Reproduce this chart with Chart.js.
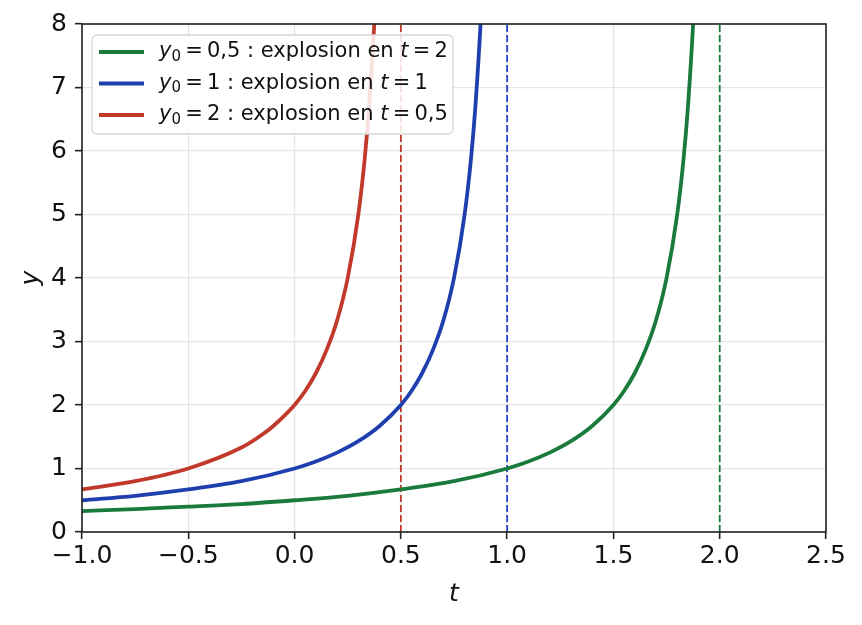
<!DOCTYPE html>
<html lang="fr">
<head>
<meta charset="UTF-8">
<title>Explosion en temps fini</title>
<script src="https://cdn.jsdelivr.net/npm/chart.js@4.4.0/dist/chart.umd.min.js"></script>
<style>
    html, body { margin: 0; padding: 0; background: #fff; }
    #wrap { width: 862px; height: 625px; }
</style>
</head>
<body>
<div id="wrap"><canvas id="chart" width="862" height="625"></canvas></div>
<script>
// values
const tGreen = [-1, -0.75, -0.5, -0.25, 0, 0.25, 0.5, 0.75, 1, 1.1, 1.2, 1.3, 1.4, 1.5, 1.55, 1.6, 1.65, 1.7, 1.75, 1.8, 1.83, 1.85, 1.88, 1.9];
const yGreen = [0.33, 0.36, 0.40, 0.44, 0.50, 0.57, 0.67, 0.80, 1.00, 1.11, 1.25, 1.43, 1.67, 2.00, 2.22, 2.50, 2.86, 3.33, 4.00, 5.00, 5.88, 6.67, 8.33, 10.0];

const tBlue = [-1, -0.75, -0.5, -0.25, 0, 0.1, 0.2, 0.3, 0.4, 0.5, 0.55, 0.6, 0.65, 0.7, 0.75, 0.8, 0.83, 0.85, 0.88, 0.9];
const yBlue = [0.50, 0.57, 0.67, 0.80, 1.00, 1.11, 1.25, 1.43, 1.67, 2.00, 2.22, 2.50, 2.86, 3.33, 4.00, 5.00, 5.88, 6.67, 8.33, 10.0];

const tRed = [-1, -0.75, -0.5, -0.25, -0.15, -0.1, 0, 0.05, 0.1, 0.15, 0.2, 0.25, 0.3, 0.33, 0.35, 0.38, 0.4];
const yRed = [0.67, 0.80, 1.00, 1.33, 1.54, 1.67, 2.00, 2.22, 2.50, 2.86, 3.33, 4.00, 5.00, 5.88, 6.67, 8.33, 10.0];

const blowupTimes = [2, 1, 0.5];
const legendParts = [
    [['y', 'i'], ['0', 's'], ['\u2009=\u20090,5 : explosion en ', 'n'], ['t', 'i'], ['\u2009=\u20092', 'n']],
    [['y', 'i'], ['0', 's'], ['\u2009=\u20091 : explosion en ', 'n'], ['t', 'i'], ['\u2009=\u20091', 'n']],
    [['y', 'i'], ['0', 's'], ['\u2009=\u20092 : explosion en ', 'n'], ['t', 'i'], ['\u2009=\u20090,5', 'n']]
];

const colors = ['#1a7a3c', '#1f3fae', '#c0392b'];
const dashColors = ['#1a7a3c', '#2741c8', '#c0392b'];
const FONT = 'DejaVu Sans';

const pairs = (ts, ys) => ts.map((t, i) => ({ x: t, y: ys[i] }));

const curves = [pairs(tGreen, yGreen), pairs(tBlue, yBlue), pairs(tRed, yRed)];

const datasets = [];
blowupTimes.forEach((t, i) => {
    datasets.push({
        data: [{ x: t, y: 0 }, { x: t, y: 8 }],
        borderColor: dashColors[i],
        borderWidth: 1.8,
        borderDash: [7, 3],
        pointRadius: 0,
        order: 2
    });
});
curves.forEach((d, i) => {
    datasets.push({
        data: d,
        borderColor: colors[i],
        borderWidth: 3.8,
        pointRadius: 0,
        cubicInterpolationMode: 'monotone',
        order: 1
    });
});

// frame + legend box drawn in the chart area
const framePlugin = {
    id: 'frame',
    afterDraw(chart) {
        const ctx = chart.ctx;
        const a = chart.chartArea;
        ctx.save();
        ctx.strokeStyle = '#222';
        ctx.lineWidth = 1.6;
        ctx.strokeRect(a.left, a.top, a.right - a.left, a.bottom - a.top);

        // legend
        const bx = a.left + 10, by = a.top + 11, bw = 361, bh = 99;
        ctx.fillStyle = 'rgba(255,255,255,0.85)';
        ctx.strokeStyle = '#d6d6d6';
        ctx.lineWidth = 1.3;
        ctx.beginPath();
        ctx.roundRect(bx, by, bw, bh, 5);
        ctx.fill();
        ctx.stroke();

        legendParts.forEach((parts, i) => {
            const yy = by + 17 + i * 31.5;
            ctx.strokeStyle = colors[i];
            ctx.lineWidth = 3.8;
            ctx.beginPath();
            ctx.moveTo(bx + 7, yy);
            ctx.lineTo(bx + 52, yy);
            ctx.stroke();

            let x = bx + 67;
            ctx.fillStyle = '#111';
            ctx.textBaseline = 'middle';
            parts.forEach(([txt, kind]) => {
                let dy = 0;
                if (kind === 'i') ctx.font = 'italic 21px ' + FONT;
                else if (kind === 's') { ctx.font = '15px ' + FONT; dy = 5; }
                else ctx.font = '21px ' + FONT;
                ctx.fillText(txt, x, yy + dy);
                x += ctx.measureText(txt).width;
            });
        });
        ctx.restore();
    }
};

new Chart(document.getElementById('chart'), {
    type: 'line',
    data: { datasets: datasets },
    options: {
        responsive: false,
        animation: false,
        devicePixelRatio: 1,
        layout: { padding: { top: 24, right: 36, left: 0, bottom: 0 } },
        plugins: { legend: { display: false }, tooltip: { enabled: false } },
        scales: {
            x: {
                type: 'linear',
                min: -1, max: 2.5,
                afterFit(s) { s.height = 93; },
                border: { display: false },
                grid: { color: '#e6e6e6', lineWidth: 1.3, tickLength: 7, tickColor: '#222', tickWidth: 1.6 },
                ticks: {
                    stepSize: 0.5,
                    color: '#111',
                    padding: 2,
                    font: { family: FONT, size: 25 },
                    callback: v => (v < 0 ? '\u2212' : '') + Math.abs(v).toFixed(1)
                },
                title: {
                    display: true, text: 't', color: '#111',
                    font: { family: FONT, size: 25, style: 'italic' },
                    padding: { top: 0, bottom: 16 }
                }
            },
            y: {
                type: 'linear',
                min: 0, max: 8,
                afterFit(s) { s.width = 82; },
                border: { display: false },
                grid: { color: '#e6e6e6', lineWidth: 1.3, tickLength: 7, tickColor: '#222', tickWidth: 1.6 },
                ticks: {
                    stepSize: 1,
                    color: '#111',
                    padding: 8,
                    font: { family: FONT, size: 25 }
                },
                title: {
                    display: true, text: 'y', color: '#111',
                    font: { family: FONT, size: 25, style: 'italic' },
                    padding: { top: 16, bottom: 0 }
                }
            }
        }
    },
    plugins: [framePlugin]
});
</script>
</body>
</html>
